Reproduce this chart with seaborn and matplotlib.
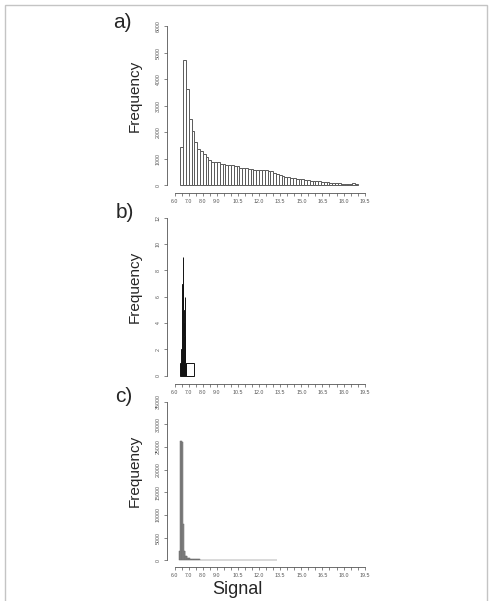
"""Three stacked histograms of signal (a, b, c), R-style axes."""
import matplotlib.pyplot as plt
import numpy as np
import pandas as pd
import seaborn as sns
from matplotlib.patches import Rectangle

sns.set_style("ticks")
plt.rcParams["font.family"] = ["Liberation Sans", "DejaVu Sans"]

W, H = 491, 601

# ---- data (bin edges and counts)
a_start, a_step = 6.4, 0.2
a_counts = [1460, 4710, 3610, 2490, 2050, 1640, 1360, 1310, 1180, 1060,
            950, 890, 870, 870, 820, 790, 780, 780, 770, 740,
            710, 670, 660, 640, 620, 600, 590, 590, 570, 580,
            570, 540, 520, 450, 410, 370, 340, 320, 300, 290,
            270, 250, 240, 230, 210, 190, 175, 165, 160, 150,
            140, 125, 115, 105, 95, 80, 70, 60, 55, 50,
            55, 90, 35]

b_edges = [6.40, 6.42, 6.44, 6.46, 6.48, 6.50, 6.52, 6.54, 6.56, 6.58,
           6.60, 6.62, 6.64, 6.66, 6.68, 6.70, 6.72, 6.74, 6.76, 6.78,
           6.80, 7.40]
b_counts = [1, 1, 1, 1, 2, 3, 5, 7, 7, 9,
            7, 5, 4, 4, 3, 6, 2, 1, 1, 1,
            1]

c_edges = [6.30, 6.35, 6.40, 6.45, 6.50, 6.55, 6.60, 6.65, 6.70, 6.75,
           6.80, 6.85, 6.90, 6.95, 7.00, 7.05, 7.10, 7.15, 7.20, 7.25,
           7.30, 7.35, 7.40, 7.45, 7.50, 7.55, 7.60, 7.65, 7.70, 7.75,
           7.80, 7.85, 7.90, 7.95, 8.00, 8.5, 9.0, 9.5, 10.0, 10.5,
           11.0, 11.5, 12.0, 12.5, 13.0, 13.3]
c_counts = [2060, 2060, 26300, 26300, 26200, 26100, 8000, 2000, 2000, 950,
            950, 900, 600, 580, 560, 520, 380, 370, 350, 340,
            300, 240, 230, 220, 220, 210, 210, 200, 190, 180,
            170, 160, 150, 150, 60, 30, 20, 12, 8, 5,
            4, 3, 2, 1, 1]

xtick_labels = [6.0, 7.0, 8.0, 9.0, 10.5, 12.0, 13.5, 15.0, 16.5, 18.0, 19.5]
panel_letters = ["a)", "b)", "c)"]
ymax = [6000, 12, 35000]
ystep = [1000, 2, 5000]

a_edges = list(np.round(a_start + a_step * np.arange(len(a_counts) + 1), 2))

panels = [
    (a_edges, a_counts, "white", "#5a5a5a", 0.7),
    (b_edges, b_counts, "white", "#111111", 0.7),
    (c_edges, c_counts, "#929292", "#6a6a6a", 0.35),
]

# pixel geometry: (axes top, zero line, x-axis line)
geom = [(26.0, 185.3, 193.0), (217.7, 375.7, 383.5), (401.7, 560.3, 567.0)]
letter_pos = [(122, 23), (125, 213), (124, 396)]
ax_left, ax_right = 167.0, 375.0
x6_px, px_per_unit = 174.7, 14.07

fig = plt.figure(figsize=(W / 100, H / 100), dpi=100)
fig.patches.append(Rectangle((5 / W, -0.01), 482 / W, (H - 5) / H + 0.01,
                             transform=fig.transFigure, fill=False,
                             edgecolor="#c4c4c4", linewidth=1))

for i, ((edges, counts, fc, ec, lw), (top, zero, xaxis)) in enumerate(zip(panels, geom)):
    ax = fig.add_axes([ax_left / W, 1 - xaxis / H, (ax_right - ax_left) / W, (xaxis - top) / H])
    e = np.asarray(edges)
    df = pd.DataFrame({"signal": (e[:-1] + e[1:]) / 2, "n": counts})
    sns.histplot(data=df, x="signal", weights="n", bins=edges, ax=ax, color=fc,
                 edgecolor=ec, linewidth=lw, alpha=1)

    xlo = 6 - (x6_px - ax_left) / px_per_unit
    xhi = 6 + (ax_right - x6_px) / px_per_unit
    ax.set_xlim(xlo, xhi)
    per_px = ymax[i] / (zero - top)
    ax.set_ylim(-(xaxis - zero) * per_px, ymax[i])

    sns.despine(ax=ax)
    ax.spines["left"].set_bounds(0, ymax[i])
    ax.spines["bottom"].set_bounds(6.0, 19.5)
    for s in ("left", "bottom"):
        ax.spines[s].set_color("#555555")
        ax.spines[s].set_linewidth(0.6)

    ax.set_xticks(np.arange(6.0, 19.51, 0.5), minor=True)
    ax.set_xticks(xtick_labels)
    ax.set_xticklabels([f"{v:.1f}" for v in xtick_labels])
    ax.set_yticks(np.arange(0, ymax[i] + 1, ystep[i]))
    ax.tick_params(which="both", length=2.5, width=0.5, color="#555555",
                   labelsize=3.8, labelcolor="#555555", pad=2)
    ax.tick_params(axis="y", labelrotation=90)
    for t in ax.get_yticklabels():
        t.set_va("center")
    ax.set_xlabel("")
    ax.set_ylabel("")
    ax.patch.set_alpha(0)

    lx, ly = letter_pos[i]
    fig.text(lx / W, 1 - ly / H, panel_letters[i], fontsize=15, ha="center", va="center")
    fig.text(135 / W, 1 - ((top + zero) / 2 - 10) / H, "Frequency",
             rotation=90, fontsize=11, ha="center", va="center")

fig.text(237.5 / W, 1 - 590 / H, "Signal", fontsize=13, ha="center", va="center")

plt.savefig("out.png", dpi=100)
plt.close()
